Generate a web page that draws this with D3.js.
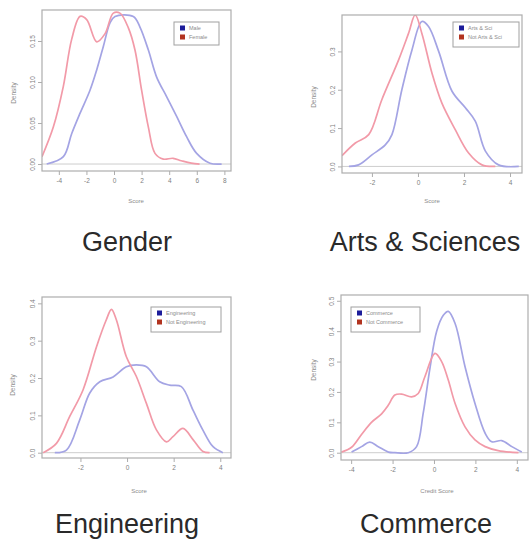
<!DOCTYPE html>
<html>
<head>
<meta charset="utf-8">
<script src="https://cdn.jsdelivr.net/npm/d3@7/dist/d3.min.js"></script>
<style>
body { margin: 0; background: #fff; }
text { font-family: "Liberation Sans", Arial, sans-serif; }
</style>
</head>
<body>
<svg width="531" height="540"></svg>
<script>
// density curves, x = score, y = density
var genderMaleX = [-4.88, -3.67, -3.07, -2.46, -1.74, -1.25, -0.78, -0.29, 0.07, 1.4, 1.88, 2.49, 3.09, 3.82, 4.54, 5.27, 5.99, 6.96, 7.8];
var genderMaleY = [0, 0.009, 0.037, 0.062, 0.09, 0.115, 0.143, 0.172, 0.18, 0.18, 0.167, 0.139, 0.106, 0.082, 0.058, 0.033, 0.013, 0.001, 0];
var genderFemaleX = [-5.22, -4.4, -3.67, -3.07, -2.46, -1.98, -1.25, -0.65, -0.05, 0.43, 1.04, 1.52, 2.0, 2.49, 2.97, 3.57, 4.28, 4.88, 5.6, 6.2];
var genderFemaleY = [0.009, 0.045, 0.095, 0.152, 0.18, 0.176, 0.149, 0.159, 0.184, 0.184, 0.166, 0.139, 0.09, 0.045, 0.013, 0.006, 0.007, 0.004, 0.001, 0];

var artsX = [-3.0, -2.58, -2.0, -1.42, -1.13, -0.7, -0.26, 0.17, 0.46, 0.9, 1.48, 2.06, 2.49, 2.93, 3.5, 4.38];
var artsY = [0, 0.004, 0.03, 0.056, 0.083, 0.2, 0.304, 0.378, 0.365, 0.3, 0.196, 0.153, 0.118, 0.04, 0.004, 0];
var notArtsX = [-3.3, -2.72, -2.14, -1.57, -0.84, -0.41, -0.12, 0.17, 0.61, 1.04, 1.62, 2.2, 2.78, 3.36];
var notArtsY = [0.028, 0.061, 0.083, 0.174, 0.278, 0.347, 0.395, 0.347, 0.243, 0.165, 0.096, 0.035, 0.004, 0];

var engX = [-3.1, -2.6, -2.03, -1.6, -1.17, -0.6, -0.03, 0.4, 0.83, 1.4, 1.83, 2.33, 2.83, 3.26, 3.69, 4.11];
var engY = [0, 0.007, 0.088, 0.16, 0.19, 0.203, 0.23, 0.235, 0.23, 0.19, 0.181, 0.177, 0.114, 0.06, 0.016, 0];
var notEngX = [-3.6, -3.03, -2.46, -1.89, -1.31, -0.89, -0.67, -0.46, -0.03, 0.4, 0.83, 1.26, 1.69, 1.97, 2.4, 2.83, 3.26, 3.54];
var notEngY = [0, 0.025, 0.097, 0.168, 0.284, 0.356, 0.384, 0.356, 0.257, 0.204, 0.132, 0.061, 0.029, 0.043, 0.065, 0.035, 0.003, 0];

var comX = [-3.98, -3.5, -3.1, -2.69, -2.2, -1.89, -1.24, -0.84, -0.52, -0.19, 0.13, 0.45, 0.69, 1.02, 1.5, 1.98, 2.47, 2.79, 3.27, 3.76, 4.24];
var comY = [0.002, 0.02, 0.035, 0.02, 0.002, 0, 0, 0.02, 0.13, 0.28, 0.4, 0.452, 0.465, 0.425, 0.283, 0.162, 0.064, 0.036, 0.04, 0.02, 0.002];
var notComX = [-4.47, -3.98, -3.5, -3.02, -2.53, -2.21, -1.89, -1.56, -1.08, -0.76, -0.44, 0.05, 0.37, 0.69, 1.02, 1.5, 1.98, 2.47, 3.1, 4.08];
var notComY = [0.002, 0.018, 0.06, 0.1, 0.128, 0.156, 0.19, 0.193, 0.184, 0.195, 0.25, 0.327, 0.3, 0.239, 0.162, 0.085, 0.042, 0.02, 0.007, 0];

// tick labels
var genderXTicks = [-4, -2, 0, 2, 4, 6, 8];
var genderYTicks = ["0.00", "0.05", "0.10", "0.15"];
var artsXTicks = [-2, 0, 2, 4];
var artsYTicks = ["0.0", "0.1", "0.2", "0.3"];
var engXTicks = [-2, 0, 2, 4];
var engYTicks = ["0.0", "0.1", "0.2", "0.3", "0.4"];
var comXTicks = [-4, -2, 0, 2, 4];
var comYTicks = ["0.0", "0.1", "0.2", "0.3", "0.4", "0.5"];

(function () {
    var svg = d3.select("svg");
    var blueLine = "#a4a4e4";
    var redLine = "#f29aa8";
    var blueKey = "#1c1c9a";
    var redKey = "#b2331f";

    var zip = function (xs, ys) {
        return xs.map(function (v, i) { return [v, ys[i]]; });
    };

    var panels = [
        { title: "Gender", titleX: 127, titleY: 251, xLabel: "Score", xLabelX: 136, xLabelY: 201, yLabelX: 14, yLabelY: 93,
          box: [42, 231, 10, 171], xDom: [-5.22, 8.48], yDom: [-0.0085, 0.1878],
          xTicks: genderXTicks, yTicks: genderYTicks,
          legend: [174, 22, 45, 23], keys: ["Male", "Female"],
          series: [zip(genderMaleX, genderMaleY), zip(genderFemaleX, genderFemaleY)] },
        { title: "Arts & Sciences", titleX: 425, titleY: 251, xLabel: "Score", xLabelX: 432, xLabelY: 201, yLabelX: 314, yLabelY: 97,
          box: [342, 522, 15, 173], xDom: [-3.30, 4.52], yDom: [-0.0172, 0.395],
          xTicks: artsXTicks, yTicks: artsYTicks,
          legend: [453, 22, 66, 25], keys: ["Arts & Sci", "Not Arts & Sci"],
          series: [zip(artsX, artsY), zip(notArtsX, notArtsY)] },
        { title: "Engineering", titleX: 127, titleY: 533, xLabel: "Score", xLabelX: 139, xLabelY: 491, yLabelX: 13, yLabelY: 385,
          box: [42, 231, 297, 458], xDom: [-3.65, 4.46], yDom: [-0.0142, 0.417],
          xTicks: engXTicks, yTicks: engYTicks,
          legend: [151, 307, 70, 25], keys: ["Engineering", "Not Engineering"],
          series: [zip(engX, engY), zip(notEngX, notEngY)] },
        { title: "Commerce", titleX: 426, titleY: 533, xLabel: "Credit Score", xLabelX: 437, xLabelY: 491, yLabelX: 314, yLabelY: 370,
          box: [341, 528, 295, 460], xDom: [-4.49, 4.54], yDom: [-0.024, 0.519],
          xTicks: comXTicks, yTicks: comYTicks,
          legend: [351, 307, 69, 25], keys: ["Commerce", "Not Commerce"],
          series: [zip(comX, comY), zip(notComX, notComY)] }
    ];

    panels.forEach(function (p, pi) {
        var g = svg.append("g");
        var x = d3.scaleLinear().domain(p.xDom).range([p.box[0], p.box[1]]);
        var y = d3.scaleLinear().domain(p.yDom).range([p.box[3], p.box[2]]);

        g.append("clipPath").attr("id", "clip" + pi)
            .append("rect")
            .attr("x", p.box[0]).attr("y", p.box[2])
            .attr("width", p.box[1] - p.box[0]).attr("height", p.box[3] - p.box[2]);

        // zero line
        g.append("line")
            .attr("x1", p.box[0]).attr("x2", p.box[1])
            .attr("y1", y(0)).attr("y2", y(0))
            .attr("stroke", "#cdcdcd").attr("stroke-width", 1);

        var line = d3.line()
            .x(function (d) { return x(d[0]); })
            .y(function (d) { return y(d[1]); })
            .curve(d3.curveCatmullRom);
        var colors = [blueLine, redLine];
        g.append("g").attr("clip-path", "url(#clip" + pi + ")")
            .selectAll("path").data(p.series).enter().append("path")
            .attr("d", line)
            .attr("fill", "none")
            .attr("stroke", function (d, i) { return colors[i]; })
            .attr("stroke-width", 1.7);

        // box
        g.append("rect")
            .attr("x", p.box[0]).attr("y", p.box[2])
            .attr("width", p.box[1] - p.box[0]).attr("height", p.box[3] - p.box[2])
            .attr("fill", "none").attr("stroke", "#adadad").attr("stroke-width", 1.2);

        // x axis
        var xAxis = g.append("g")
            .attr("transform", "translate(0," + p.box[3] + ")")
            .call(d3.axisBottom(x).tickValues(p.xTicks).tickSize(4).tickPadding(3)
                .tickFormat(function (d) { return d; }));
        xAxis.select(".domain").remove();
        xAxis.selectAll("line").attr("stroke", "#adadad");
        xAxis.selectAll("text").attr("fill", "#808080").attr("font-size", 6.5)
            .attr("font-family", "Liberation Sans, Arial, sans-serif");

        // y axis, labels turned like R does
        var yVals = p.yTicks.map(function (t) { return +t; });
        var yAxis = g.append("g")
            .attr("transform", "translate(" + p.box[0] + ",0)")
            .call(d3.axisLeft(y).tickValues(yVals).tickSize(4)
                .tickFormat(function (d, i) { return p.yTicks[i]; }));
        yAxis.select(".domain").remove();
        yAxis.selectAll("line").attr("stroke", "#adadad");
        yAxis.selectAll("text")
            .attr("x", 0).attr("y", -7).attr("dy", 0)
            .attr("text-anchor", "middle")
            .attr("transform", "rotate(-90)")
            .attr("fill", "#808080").attr("font-size", 6.5)
            .attr("font-family", "Liberation Sans, Arial, sans-serif");

        // axis titles
        g.append("text")
            .attr("x", p.xLabelX).attr("y", p.xLabelY)
            .attr("text-anchor", "middle").attr("dy", "0.35em")
            .attr("font-size", 6).attr("fill", "#8c8c8c")
            .text(p.xLabel);
        g.append("text")
            .attr("transform", "translate(" + p.yLabelX + "," + p.yLabelY + ") rotate(-90)")
            .attr("text-anchor", "middle").attr("dy", "0.35em")
            .attr("font-size", 6.5).attr("fill", "#8c8c8c")
            .text("Density");

        // legend
        var lg = g.append("g").attr("transform", "translate(" + p.legend[0] + "," + p.legend[1] + ")");
        lg.append("rect")
            .attr("width", p.legend[2]).attr("height", p.legend[3])
            .attr("fill", "#fff").attr("stroke", "#a0a0a0").attr("stroke-width", 1);
        var keyColors = [blueKey, redKey];
        p.keys.forEach(function (k, i) {
            lg.append("rect")
                .attr("x", 6).attr("y", 6 + i * 9 - 2.5)
                .attr("width", 5).attr("height", 5)
                .attr("fill", keyColors[i]);
            lg.append("text")
                .attr("x", 15).attr("y", 6 + i * 9)
                .attr("dy", "0.35em")
                .attr("font-size", 5.5).attr("fill", "#8c8c8c")
                .text(k);
        });

        // panel title
        g.append("text")
            .attr("x", p.titleX).attr("y", p.titleY)
            .attr("text-anchor", "middle")
            .attr("font-size", 27).attr("fill", "#2a2a2a")
            .text(p.title);
    });
})();
</script>
</body>
</html>
